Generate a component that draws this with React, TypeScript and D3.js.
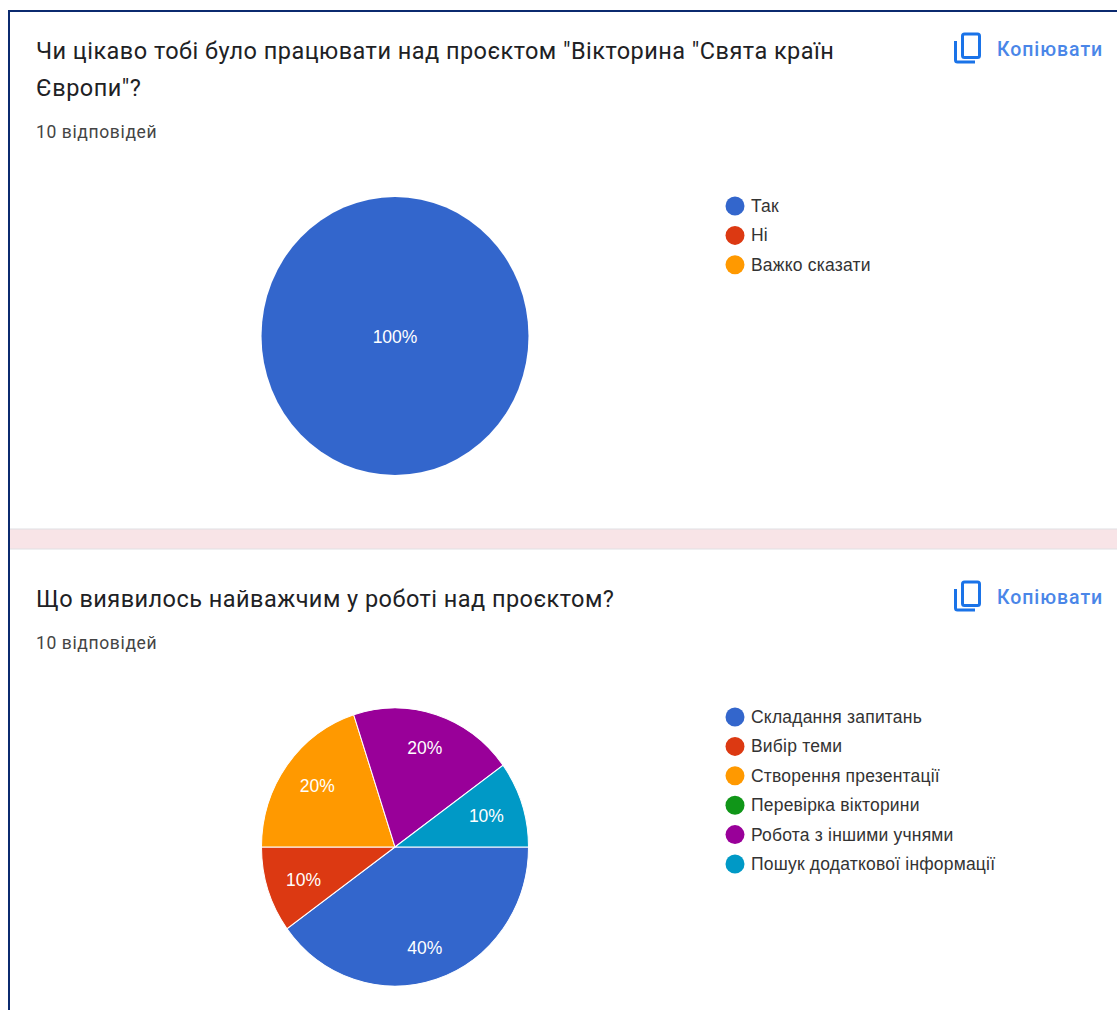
import React from "react";
import * as d3 from "d3";

const W = 1117, H = 1010;
const titleOneA = 'Чи цікаво тобі було працювати над проєктом "Вікторина "Свята країн';
const titleOneB = 'Європи"?';
const titleTwo = "Що виявилось найважчим у роботі над проєктом?";
const responses = "10 відповідей";
const copyLabel = "Копіювати";
const catsOne = ["Так", "Ні", "Важко сказати"];
const valsOne = [100, 0, 0];
const colsOne = ["#3366cc", "#dc3912", "#ff9900"];
const catsTwo = ["Складання запитань", "Вибір теми", "Створення презентації", "Перевірка вікторини", "Робота з іншими учнями", "Пошук додаткової інформації"];
const valsTwo = [40, 10, 20, 0, 20, 10];
const colsTwo = ["#3366cc", "#dc3912", "#ff9900", "#109618", "#990099", "#0099c6"];
const FONT = "Roboto, sans-serif";
const LEG = "'Liberation Sans', Arial, sans-serif";
const R = 133.5, SY = 139 / 133.5;

function Pie({ cx, cy, values, colors }: { cx: number; cy: number; values: number[]; colors: string[] }) {
  const gen = d3.pie<number>().sort(null).startAngle(Math.PI / 2).endAngle(Math.PI / 2 + 2 * Math.PI);
  const arc = d3.arc<d3.PieArcDatum<number>>().innerRadius(0).outerRadius(R);
  const labelArc = d3.arc<d3.PieArcDatum<number>>().innerRadius(R * 0.72).outerRadius(R * 0.72);
  const arcs = gen(values).filter(a => a.value > 0);
  const full = arcs.length === 1;
  return (
    <g transform={`translate(${cx},${cy})`}>
      <g transform={`scale(1,${SY})`}>
        {arcs.map((a, i) => (
          <path key={i} d={arc(a) as string} fill={colors[a.index]} stroke={full ? "none" : "#fff"} strokeWidth={1} />
        ))}
      </g>
      {arcs.map((a, i) => {
        const [x, y] = full ? [0, 0] : labelArc.centroid(a);
        return (
          <text key={i} x={x} y={y * SY * 1.05 + 7} textAnchor="middle" fontSize={17.5} fill="#fff" fontFamily={LEG}>
            {a.value}%
          </text>
        );
      })}
    </g>
  );
}

function Legend({ x, y, cats, colors }: { x: number; y: number; cats: string[]; colors: string[] }) {
  const pos = d3.scaleLinear().domain([0, 1]).range([y, y + 29.4]);
  return (
    <g>
      {cats.map((c, i) => (
        <g key={c}>
          <circle cx={x} cy={pos(i)} r={9.5} fill={colors[i]} />
          <text x={x + 16} y={pos(i) + 6} fontSize={17.5} letterSpacing={0.2} fill="#333" fontFamily={LEG}>{c}</text>
        </g>
      ))}
    </g>
  );
}

function Copy({ y }: { y: number }) {
  return (
    <g>
      <g fill="none" stroke="#1a73e8" strokeWidth={3}>
        <rect x={962.5} y={y - 15} width={17} height={23.5} rx={2} />
        <path d={`M955.5,${y - 8} V${y + 11} a2,2 0 0 0 2,2 H975`} />
      </g>
      <text x={997} y={y + 7} fontSize={19.5} fontWeight={500} letterSpacing={0.95} fill="#4a86e8" fontFamily={FONT}>{copyLabel}</text>
    </g>
  );
}

export default function App() {
  return (
    <svg width={W} height={H} viewBox={`0 0 ${W} ${H}`} style={{ position: "absolute", left: 0, top: 0, display: "block" }}>
      <rect width={W} height={H} fill="#fff" />
      <rect x={10} y={529} width={W - 10} height={20} fill="#f8e4e7" />
      <rect x={10} y={528.5} width={W - 10} height={1} fill="#e0dfe4" />
      <rect x={10} y={548.5} width={W - 10} height={1} fill="#e0dfe4" />
      <rect x={8} y={10} width={2} height={H - 10} fill="#0b2a6f" />
      <rect x={8} y={10} width={W - 8} height={2} fill="#0b2a6f" />

      <text x={36} y={59} fontSize={23.5} letterSpacing={0.46} fill="#202124" fontFamily={FONT}>{titleOneA}</text>
      <text x={36} y={96} fontSize={23.5} letterSpacing={0.46} fill="#202124" fontFamily={FONT}>{titleOneB}</text>
      <text x={36} y={138} fontSize={17.5} letterSpacing={0.62} fill="#444" fontFamily={FONT}>{responses}</text>
      <Copy y={49} />
      <Pie cx={395} cy={336} values={valsOne} colors={colsOne} />
      <Legend x={735} y={206} cats={catsOne} colors={colsOne} />

      <text x={36} y={607} fontSize={23.5} letterSpacing={0.46} fill="#202124" fontFamily={FONT}>{titleTwo}</text>
      <text x={36} y={649} fontSize={17.5} letterSpacing={0.62} fill="#444" fontFamily={FONT}>{responses}</text>
      <Copy y={597} />
      <Pie cx={395} cy={847} values={valsTwo} colors={colsTwo} />
      <Legend x={735} y={717} cats={catsTwo} colors={colsTwo} />
    </svg>
  );
}
